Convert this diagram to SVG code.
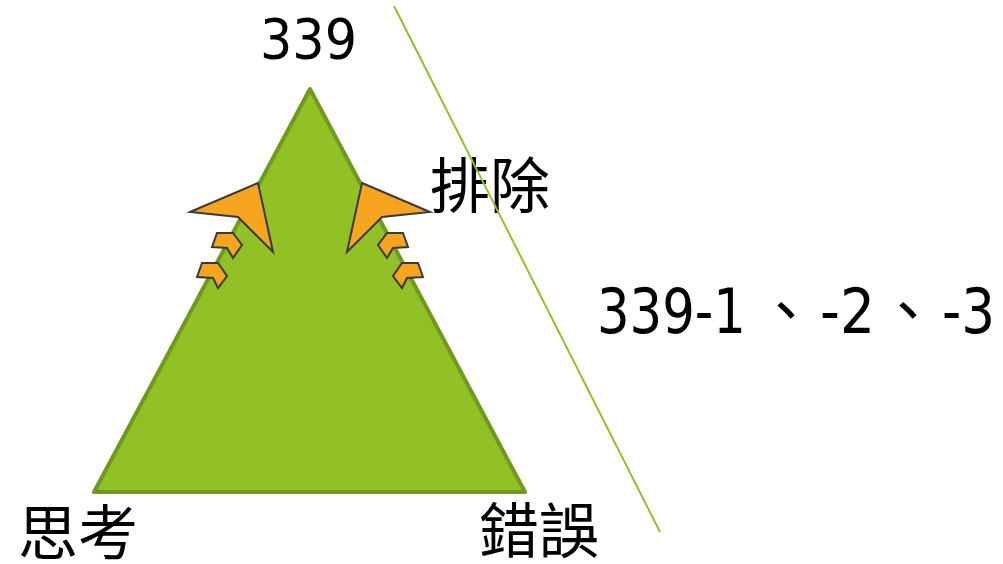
<svg xmlns="http://www.w3.org/2000/svg" width="1003" height="564" viewBox="0 0 1003 564">
<style>
.t{font-family:"DejaVu Sans","Noto Sans CJK TC",sans-serif;fill:#000}
.c{font-family:"Noto Sans CJK TC","Noto Sans CJK SC",sans-serif;font-size:60px;fill:#000}
.arr{fill:#f7a51e;stroke:#3a3a3a;stroke-width:2;stroke-linejoin:miter}
</style>
<rect width="1003" height="564" fill="#fff"/>
<g id="triangle">
<polygon points="310,89 94,492 525,492" fill="#92c126" stroke="#6f9a1e" stroke-width="4" stroke-linejoin="round"/>
</g>
<g id="arrows-left">
<polygon class="arr" points="190,212 258,183 273,252 238,217"/>
<polygon class="arr" points="217,233 233,233 242,245 233,258 227,248 212,247"/>
<polygon class="arr" points="202,263 218,263 227,276 218,288 213,278 197,277"/>
</g>
<g id="arrows-right">
<polygon class="arr" points="430,212 362,183 347,252 382,217"/>
<polygon class="arr" points="403,233 387,233 378,245 387,258 393,248 408,247"/>
<polygon class="arr" points="418,263 402,263 393,276 402,288 407,278 423,277"/>
</g>
<g id="label-339"><text class="t" x="260" y="58" font-size="55" textLength="97" lengthAdjust="spacingAndGlyphs">339</text></g>
<g id="label-paichu"><text class="c" x="430" y="208">排除</text></g>
<g id="label-sikao"><text class="c" x="18" y="555" font-size="61">思考</text></g>
<g id="label-cuowu"><text class="c" x="479" y="553" font-size="61">錯誤</text></g>
<g id="label-list">
<text class="t" x="597" y="333" font-size="62" textLength="149" lengthAdjust="spacingAndGlyphs">339-1</text>
<text class="c" x="756" y="333">、</text>
<text class="t" x="820" y="333" font-size="62" textLength="55" lengthAdjust="spacingAndGlyphs">-2</text>
<text class="c" x="878" y="333">、</text>
<text class="t" x="942" y="333" font-size="62" textLength="53" lengthAdjust="spacingAndGlyphs">-3</text>
</g>
<g id="connectors">
<line x1="394" y1="6" x2="660" y2="532" stroke="#92c126" stroke-width="2"/>
</g>
</svg>
